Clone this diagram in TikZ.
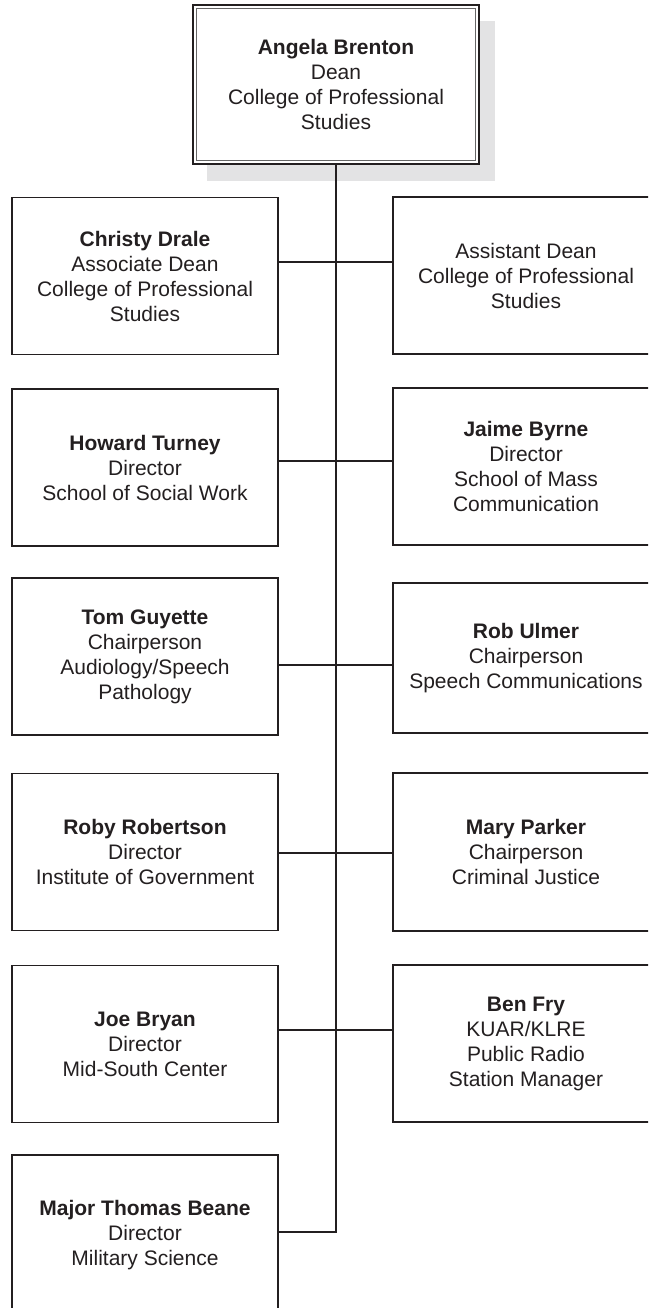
\documentclass[tikz,border=0pt]{standalone}
\usepackage{fontspec}
\setmainfont{Liberation Sans}
\usepackage{tikz}
\usetikzlibrary{calc}
\definecolor{ink}{HTML}{231F20}
\definecolor{shadowgray}{HTML}{E3E3E4}
\tikzset{
	unitbox/.style={draw=ink, line width=1.5pt, fill=white, text=ink, inner sep=0pt,
		minimum width=266pt, minimum height=157pt, align=center,
		font=\fontsize{21}{25}\selectfont},
	link/.style={draw=ink, line width=1.5pt}
}
\begin{document}
\begin{tikzpicture}[x=1pt, y=-1pt]
			%%%%% START %%%%%
			\useasboundingbox (0, 0) rectangle (648, 1308);
			\clip (0, 0) rectangle (648, 1308);
			
			% dean on top, with its shadow
			\fill[color=shadowgray] (207, 21) rectangle (495, 181);
			\node[unitbox, line width=1.2pt, minimum width=286pt, minimum height=159pt] (dean) at (336, 84.5) {\textbf{Angela Brenton}\\Dean\\College of Professional\\Studies};
			\draw[line width=1pt, color=black!60] ($(dean.north west)+(4, 4)$) rectangle ($(dean.south east)+(-4, -4)$);
			
			% left column
			\node[unitbox] (drale) at (145, 276) {\textbf{Christy Drale}\\Associate Dean\\College of Professional\\Studies};
			\node[unitbox] (turney) at (145, 467.5) {\textbf{Howard Turney}\\Director\\School of Social Work};
			\node[unitbox] (guyette) at (145, 656.5) {\textbf{Tom Guyette}\\Chairperson\\Audiology/Speech\\Pathology};
			\node[unitbox] (robertson) at (145, 852) {\textbf{Roby Robertson}\\Director\\Institute of Government};
			\node[unitbox] (bryan) at (145, 1044) {\textbf{Joe Bryan}\\Director\\Mid-South Center};
			\node[unitbox, minimum height=160pt] (beane) at (145, 1235) {\textbf{Major Thomas Beane}\\Director\\Military Science};
			
			% right column
			\node[unitbox] (asstdean) at (526, 275.5) {Assistant Dean\\College of Professional\\Studies};
			\node[unitbox] (byrne) at (526, 466.5) {\textbf{Jaime Byrne}\\Director\\School of Mass\\Communication};
			\node[unitbox, minimum height=150pt] (ulmer) at (526, 658) {\textbf{Rob Ulmer}\\Chairperson\\Speech Communications};
			\node[unitbox, minimum height=158pt] (parker) at (526, 852) {\textbf{Mary Parker}\\Chairperson\\Criminal Justice};
			\node[unitbox] (fry) at (526, 1043.5) {\textbf{Ben Fry}\\KUAR/KLRE\\Public Radio\\Station Manager};
			
			% trunk and branches
			\coordinate (j1) at (336, 262);
			\coordinate (j2) at (336, 461);
			\coordinate (j3) at (336, 665);
			\coordinate (j4) at (336, 853);
			\coordinate (j5) at (336, 1030);
			\coordinate (j6) at (336, 1232);
			
			\draw[link] (dean.south) -- (j6) -- (beane.east |- j6);
			\draw[link] (drale.east |- j1) -- (asstdean.west |- j1);
			\draw[link] (turney.east |- j2) -- (byrne.west |- j2);
			\draw[link] (guyette.east |- j3) -- (ulmer.west |- j3);
			\draw[link] (robertson.east |- j4) -- (parker.west |- j4);
			\draw[link] (bryan.east |- j5) -- (fry.west |- j5);
			
			%%%%% END %%%%%
		\end{tikzpicture}
\end{document}
